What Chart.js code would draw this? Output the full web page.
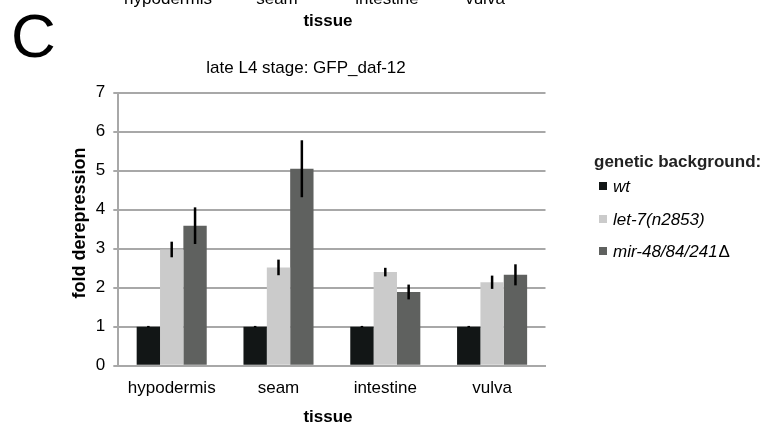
<!DOCTYPE html>
<html><head><meta charset="utf-8">
<script src="https://cdn.jsdelivr.net/npm/chart.js@4/dist/chart.umd.min.js"></script>
<style>html,body{margin:0;padding:0;background:#fff;}#wrap{position:relative;width:771px;height:439px;}</style>
</head><body><div id="wrap"><canvas id="c" width="771" height="439"></canvas></div>
<script>
const categories = ['hypodermis', 'seam', 'intestine', 'vulva'];
const seriesNames = ['wt', 'let-7(n2853)', 'mir-48/84/241\u0394'];
const wtValues = [1, 1, 1, 1];
const wtErrors = [0.02, 0.02, 0.02, 0.02];
const let7Values = [2.98, 2.52, 2.40, 2.14];
const let7Errors = [0.20, 0.20, 0.11, 0.17];
const mirValues = [3.59, 5.05, 1.89, 2.33];
const mirErrors = [0.47, 0.73, 0.19, 0.27];
const yTicks = [0, 1, 2, 3, 4, 5, 6, 7];
const chartTitle = 'late L4 stage: GFP_daf-12';
const xTitle = 'tissue';
const yTitle = 'fold derepression';
const legendTitle = 'genetic background:';
const panelLetter = 'C';

const FONT = '"Liberation Sans", Arial, sans-serif';
Chart.defaults.font.family = FONT;
Chart.defaults.color = '#000';

const colors = ['#121616', '#cbcbcb', '#5f615f'];
const errors = [wtErrors, let7Errors, mirErrors];

const errorBars = {
  id: 'errorBars',
  afterDatasetsDraw(chart) {
    const ctx = chart.ctx, y = chart.scales.y;
    ctx.save();
    ctx.strokeStyle = '#000';
    ctx.lineWidth = 2.5;
    chart.data.datasets.forEach((ds, di) => {
      const meta = chart.getDatasetMeta(di);
      meta.data.forEach((bar, i) => {
        const v = ds.data[i], e = errors[di][i];
        ctx.beginPath();
        ctx.moveTo(bar.x, y.getPixelForValue(v + e));
        ctx.lineTo(bar.x, y.getPixelForValue(v - e));
        ctx.stroke();
      });
    });
    ctx.restore();
  }
};

const extras = {
  id: 'extras',
  afterDraw(chart) {
    const ctx = chart.ctx;
    ctx.save();
    ctx.fillStyle = '#000';
    // panel letter
    ctx.font = '62px ' + FONT;
    ctx.textAlign = 'left'; ctx.textBaseline = 'alphabetic';
    ctx.fillText(panelLetter, 11, 57);
    // previous panel remnants (cut off at top)
    ctx.font = '17px ' + FONT;
    ctx.textAlign = 'center';
    const prevCenters = [168, 277, 387, 485];
    categories.forEach((c, i) => ctx.fillText(c, prevCenters[i], 4));
    ctx.font = 'bold 17px ' + FONT;
    ctx.textBaseline = 'middle';
    ctx.fillText(xTitle, 328, 21);
    // chart title
    ctx.font = '17px ' + FONT;
    ctx.fillText(chartTitle, 306, 68);
    // x axis title
    ctx.font = 'bold 17px ' + FONT;
    ctx.fillText(xTitle, 328, 417);
    // y axis title
    ctx.save();
    ctx.translate(80, 223);
    ctx.rotate(-Math.PI / 2);
    ctx.font = 'bold 18px ' + FONT;
    ctx.fillText(yTitle, 0, 0);
    ctx.restore();
    // legend
    ctx.textAlign = 'left';
    ctx.font = 'bold 17px ' + FONT;
    ctx.fillStyle = '#222';
    ctx.fillText(legendTitle, 594, 162);
    const itemY = [186, 219, 251];
    chart.data.datasets.forEach((ds, i) => {
      ctx.fillStyle = ds.backgroundColor;
      ctx.fillRect(599, itemY[i] - 4, 8, 8);
      ctx.fillStyle = '#000';
      let label = ds.label, tail = '';
      if (label.endsWith('\u0394')) { tail = '\u0394'; label = label.slice(0, -1); }
      ctx.font = 'italic 17px ' + FONT;
      ctx.fillText(label, 613, itemY[i] + 1);
      if (tail) {
        const w = ctx.measureText(label).width;
        ctx.font = '17px ' + FONT;
        ctx.fillText(tail, 613 + w + 1, itemY[i] + 1);
      }
    });
    ctx.restore();
  }
};

new Chart(document.getElementById('c'), {
  type: 'bar',
  data: {
    labels: categories,
    datasets: [
      { label: seriesNames[0], data: wtValues, backgroundColor: colors[0] },
      { label: seriesNames[1], data: let7Values, backgroundColor: colors[1] },
      { label: seriesNames[2], data: mirValues, backgroundColor: colors[2] }
    ]
  },
  options: {
    responsive: false,
    devicePixelRatio: 1,
    animation: false,
    layout: { padding: { left: 0, top: 92.7, right: 225.5, bottom: 0 } },
    datasets: { bar: { barPercentage: 1, categoryPercentage: 0.656, borderWidth: 0 } },
    plugins: { legend: { display: false }, title: { display: false }, tooltip: { enabled: false } },
    scales: {
      x: {
        grid: { display: false, drawTicks: false },
        border: { display: true, color: '#a8a8a8', width: 2 },
        ticks: { font: { size: 17 }, padding: 12, color: '#000' },
        afterFit(s) { s.height = 439 - 365.7; }
      },
      y: {
        min: 0, max: 7,
        afterBuildTicks(s) { s.ticks = yTicks.map(v => ({ value: v })); },
        grid: { color: '#a8a8a8', lineWidth: 2, tickLength: 5, drawTicks: true },
        border: { display: true, color: '#a8a8a8', width: 2 },
        ticks: { font: { size: 17 }, padding: 8, color: '#000' },
        afterFit(s) { s.width = 118.3; }
      }
    }
  },
  plugins: [errorBars, extras]
});
</script></body></html>
